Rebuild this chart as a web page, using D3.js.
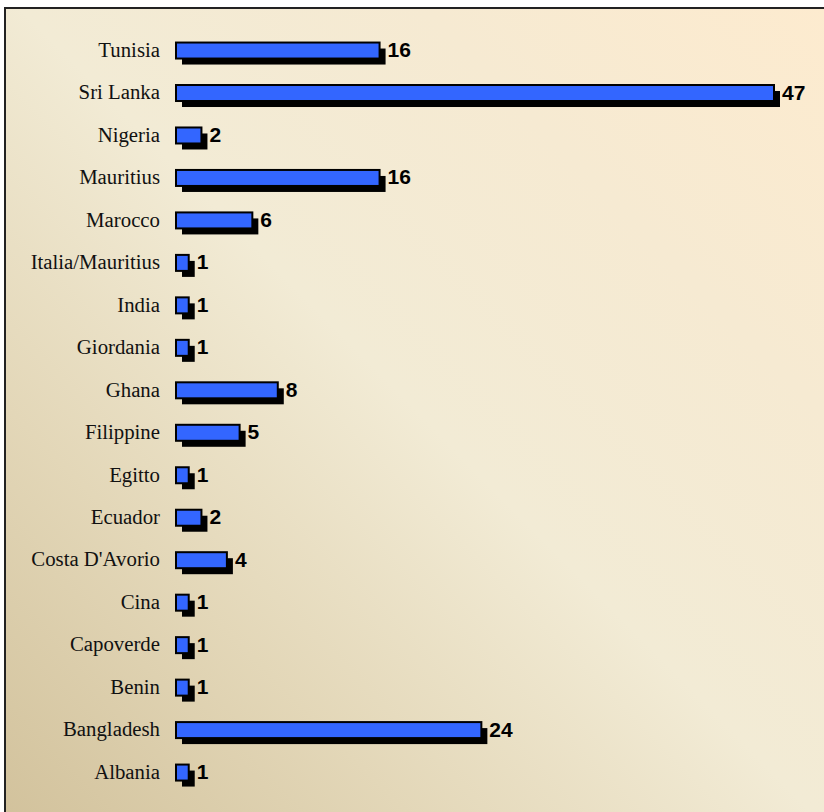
<!DOCTYPE html>
<html>
<head>
<meta charset="utf-8">
<script src="https://cdn.jsdelivr.net/npm/d3@7"></script>
<style>
  html, body { margin: 0; padding: 0; background: #ffffff; }
  svg { display: block; }
</style>
</head>
<body>
<svg id="chart" width="824" height="812"></svg>
<script>
// Countries, top to bottom, and their counts
const categories = [
  "Tunisia", "Sri Lanka", "Nigeria", "Mauritius", "Marocco",
  "Italia/Mauritius", "India", "Giordania", "Ghana", "Filippine",
  "Egitto", "Ecuador", "Costa D'Avorio", "Cina", "Capoverde",
  "Benin", "Bangladesh", "Albania"
];
const counts = [16, 47, 2, 16, 6, 1, 1, 1, 8, 5, 1, 2, 4, 1, 1, 1, 24, 1];

const data = categories.map((c, i) => ({ name: c, value: counts[i] }));

const svg = d3.select("#chart");

// Diagonal background gradient: tan at bottom-left to pale peach at top-right
const defs = svg.append("defs");
const grad = defs.append("linearGradient")
  .attr("id", "bg")
  .attr("gradientUnits", "userSpaceOnUse")
  .attr("x1", 0).attr("y1", 812)
  .attr("x2", 824).attr("y2", 0);
grad.append("stop").attr("offset", 0).attr("stop-color", "#d2c29c");
grad.append("stop").attr("offset", 0.25).attr("stop-color", "#e3d7b8");
grad.append("stop").attr("offset", 0.5).attr("stop-color", "#f2ebd5");
grad.append("stop").attr("offset", 0.75).attr("stop-color", "#f6ead2");
grad.append("stop").attr("offset", 1).attr("stop-color", "#fdebcf");

svg.append("rect")
  .attr("x", 5).attr("y", 8)
  .attr("width", 830).attr("height", 820)
  .attr("fill", "url(#bg)")
  .attr("stroke", "#222")
  .attr("stroke-width", 2);

const x = d3.scaleLinear().domain([0, 47]).range([176, 774]);
const y = d3.scaleBand().domain(categories).range([29.3, 793.8]).padding(0);

const center = d => y(d.name) + y.bandwidth() / 2;
const barH = 16;
const shadow = 6;

const rows = svg.append("g").selectAll("g")
  .data(data).join("g");

// Drop shadow
rows.append("rect")
  .attr("x", x(0) + shadow)
  .attr("y", d => center(d) - barH / 2 + shadow)
  .attr("width", d => x(d.value) - x(0))
  .attr("height", barH)
  .attr("fill", "#000");

// Bar
rows.append("rect")
  .attr("x", x(0))
  .attr("y", d => center(d) - barH / 2)
  .attr("width", d => x(d.value) - x(0))
  .attr("height", barH)
  .attr("fill", "#3366ff")
  .attr("stroke", "#000")
  .attr("stroke-width", 2);

// Value labels
rows.append("text")
  .attr("x", d => x(d.value) + 8)
  .attr("y", d => center(d) + 1)
  .attr("dominant-baseline", "middle")
  .attr("font-family", "'Liberation Sans', Arial, sans-serif")
  .attr("font-weight", "bold")
  .attr("font-size", 21)
  .attr("fill", "#000")
  .text(d => d.value);

// Category labels
rows.append("text")
  .attr("x", 160)
  .attr("y", d => center(d) + 1.5)
  .attr("dominant-baseline", "middle")
  .attr("text-anchor", "end")
  .attr("font-family", "'Liberation Serif', 'Times New Roman', serif")
  .attr("font-size", 20.8)
  .attr("fill", "#111")
  .text(d => d.name);
</script>
</body>
</html>
